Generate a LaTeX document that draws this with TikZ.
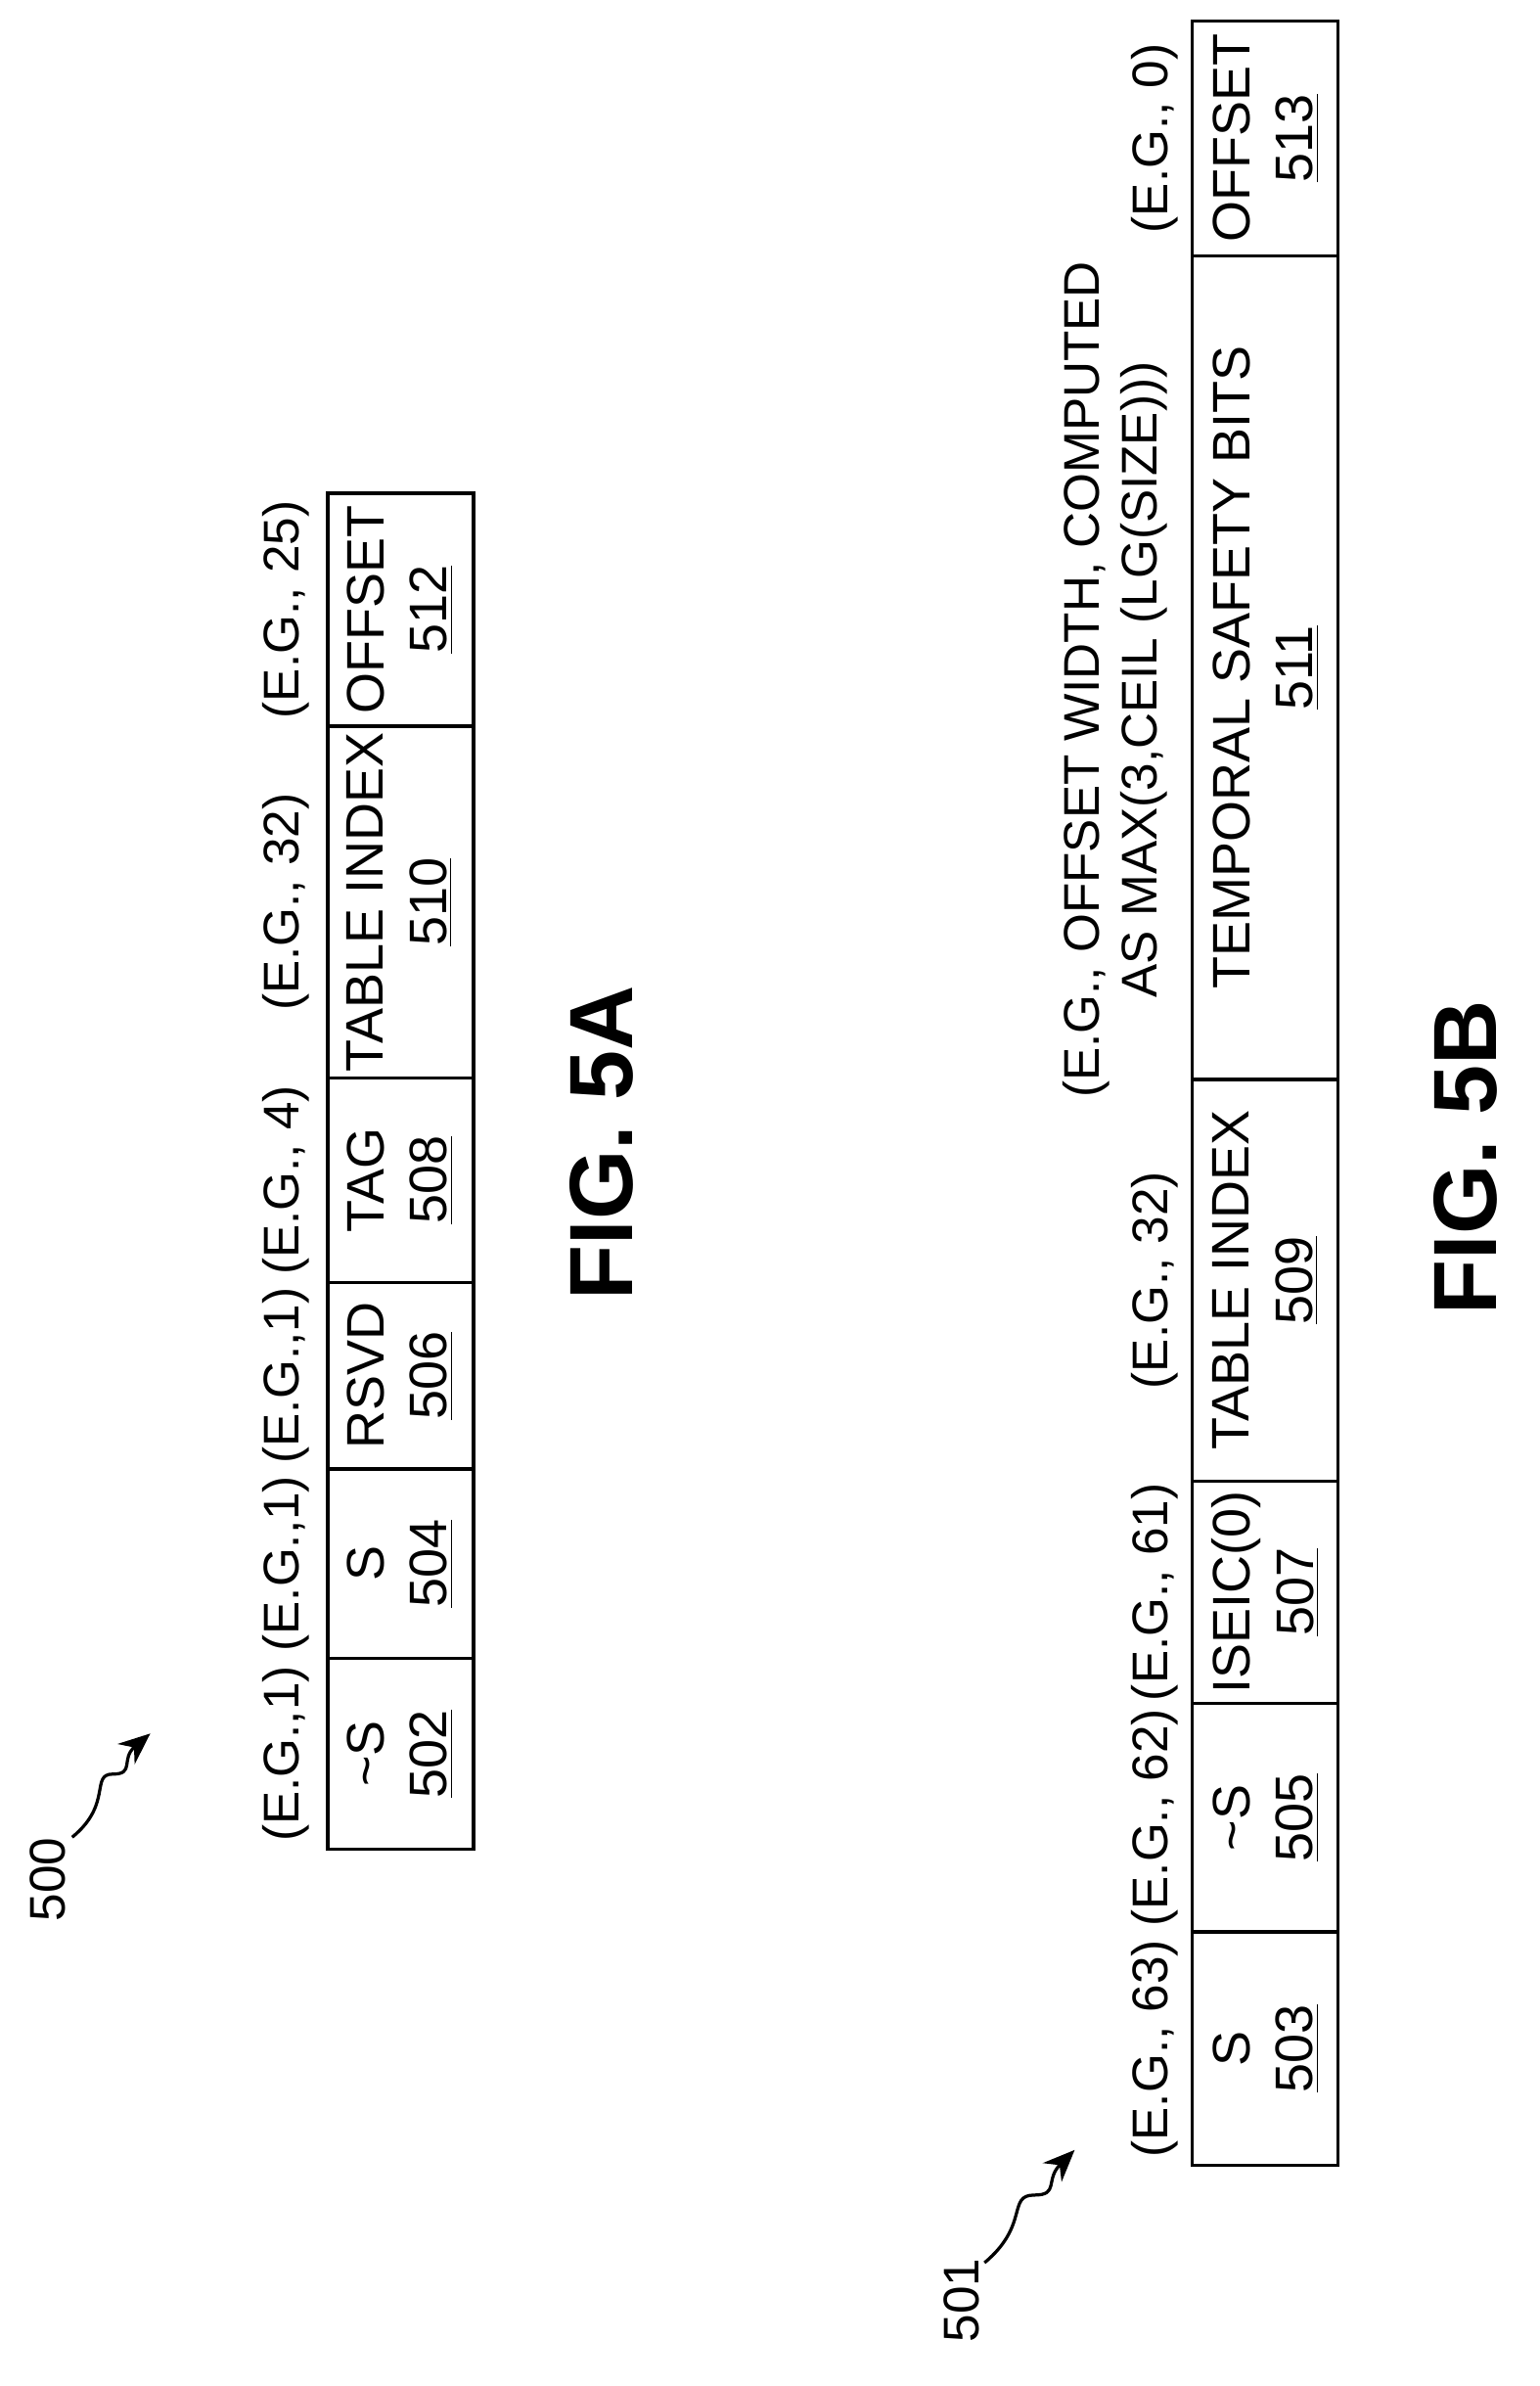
\documentclass[tikz,border=0pt]{standalone}
\usepackage{fontspec}
\setmainfont{Liberation Sans}
\usetikzlibrary{arrows.meta}
\begin{document}
\begin{tikzpicture}[
        x=0.02cm, y=-0.02cm,
        cell/.style={draw, line width=1.2pt},
        txt/.style={rotate=90, align=center, font=\fontsize{20}{24}\selectfont, inner sep=1pt},
        lbl/.style={rotate=90, align=center, font=\fontsize{19}{22}\selectfont, inner sep=1pt},
        fig/.style={rotate=90, font=\bfseries\fontsize{34}{40}\selectfont},
        ref/.style={line width=1.2pt, -{Stealth[length=12pt,width=10pt]}},
    ]
    \useasboundingbox (0,0) rectangle (1024,1587);

    % FIG. 5A
    \foreach \a/\b/\t/\n/\e in {1103/1230/{\textasciitilde S}/502/{(E.G.,1)},
                               977/1103/S/504/{(E.G.,1)},
                               853/977/RSVD/506/{(E.G.,1)},
                               717/853/TAG/508/{(E.G., 4)},
                               483/717/TABLE INDEX/510/{(E.G., 32)},
                               328/483/OFFSET/512/{(E.G., 25)}} {
        \draw[cell] (218,\a) rectangle (315,\b);
        \node[txt] (c\n) at (266,{(\a+\b)/2}) {\t\\\underline{\n}};
        \node[lbl] (e\n) at (190,{(\a+\b)/2}) {\e};
    }
    \node[fig] (figa) at (400,760) {FIG. 5A};

    % FIG. 5B
    \foreach \a/\b/\t/\n/\e in {1285/1440/S/503/{(E.G., 63)},
                               1133/1285/{\textasciitilde S}/505/{(E.G., 62)},
                               985/1133/ISEIC(0)/507/{(E.G., 61)},
                               718/985/TABLE INDEX/509/{(E.G., 32)},
                               170/718/TEMPORAL SAFETY BITS/511/{},
                               14/170/OFFSET/513/{(E.G., 0)}} {
        \draw[cell] (793,\a) rectangle (890,\b);
        \node[txt] (c\n) at (842,{(\a+\b)/2}) {\t\\\underline{\n}};
        \node[lbl] (e\n) at (768,{(\a+\b)/2}) {\e};
    }
    \node[lbl] (ewidth) at (742,452) {(E.G., OFFSET WIDTH, COMPUTED\\AS MAX(3,CEIL (LG(SIZE)))};
    \node[fig] (figb) at (975,770) {FIG. 5B};

    % reference numerals
    \node[lbl] (n500) at (32,1250) {500};
    \coordinate (s500) at (48,1222);
    \coordinate (t500) at (100,1153);
    \draw[ref] (s500) .. controls (75,1200) and (60,1180) .. (75,1180)
        .. controls (90,1180) and (80,1170) .. (t500);
    \node[lbl] (n501) at (640,1530) {501};
    \coordinate (s501) at (655,1505);
    \coordinate (t501) at (715,1430);
    \draw[ref] (s501) .. controls (685,1480) and (670,1460) .. (688,1460)
        .. controls (705,1460) and (695,1450) .. (t501);
\end{tikzpicture}
\end{document}
